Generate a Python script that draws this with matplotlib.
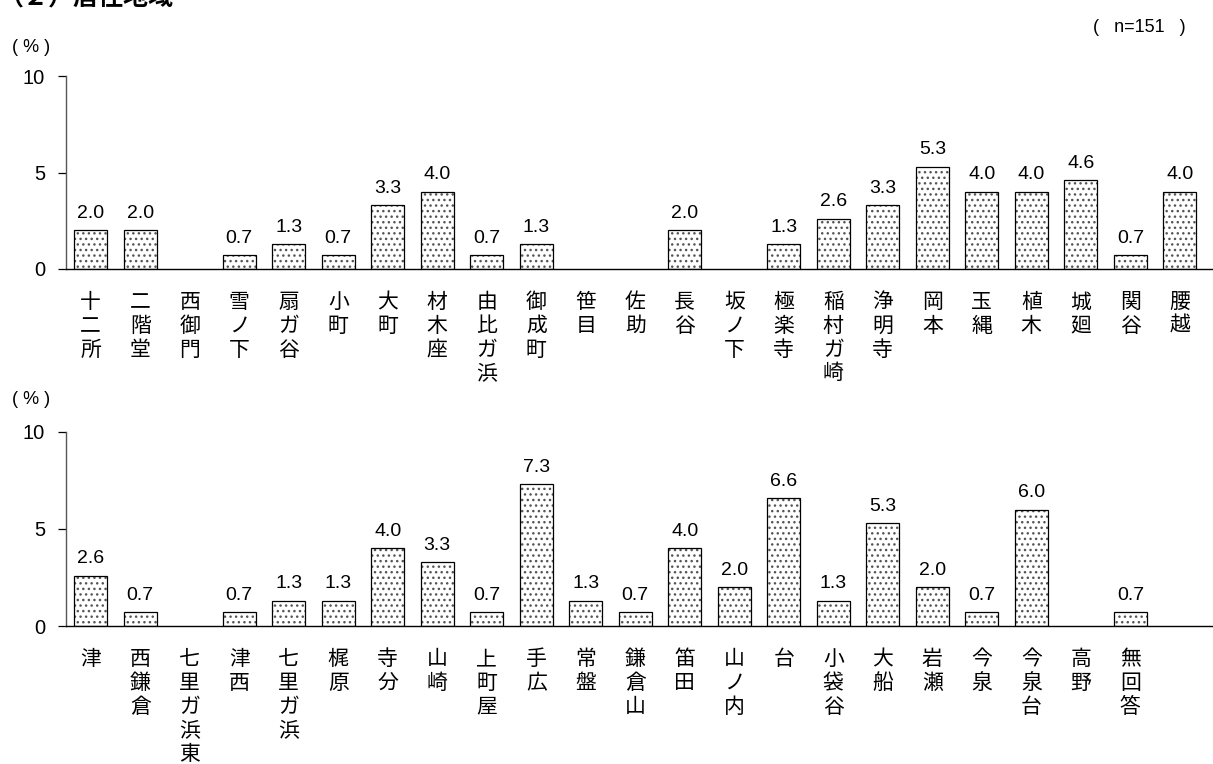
import numpy as np
import matplotlib
matplotlib.use("Agg")
import matplotlib.pyplot as plt

plt.rcParams['font.family'] = ['Liberation Sans', 'Noto Sans CJK JP', 'DejaVu Sans']

# upper panel
areas_top = ["十二所", "二階堂", "西御門", "雪ノ下", "扇ガ谷", "小町", "大町", "材木座",
             "由比ガ浜", "御成町", "笹目", "佐助", "長谷", "坂ノ下", "極楽寺", "稲村ガ崎",
             "浄明寺", "岡本", "玉縄", "植木", "城廻", "関谷", "腰越"]
pct_top = [2.0, 2.0, 0.0, 0.7, 1.3, 0.7, 3.3, 4.0, 0.7, 1.3, 0.0, 0.0, 2.0, 0.0,
           1.3, 2.6, 3.3, 5.3, 4.0, 4.0, 4.6, 0.7, 4.0]

# lower panel
areas_bottom = ["津", "西鎌倉", "七里ガ浜東", "津西", "七里ガ浜", "梶原", "寺分", "山崎",
                "上町屋", "手広", "常盤", "鎌倉山", "笛田", "山ノ内", "台", "小袋谷",
                "大船", "岩瀬", "今泉", "今泉台", "高野", "無回答"]
pct_bottom = [2.6, 0.7, 0.0, 0.7, 1.3, 1.3, 4.0, 3.3, 0.7, 7.3, 1.3, 0.7, 4.0, 2.0,
              6.6, 1.3, 5.3, 2.0, 0.7, 6.0, 0.0, 0.7]

n_total = 151
yticks = [0, 5, 10]

W, H = 1213, 764
fig = plt.figure(figsize=(W / 100, H / 100), dpi=100)


def draw_panel(rect, labels, values):
    ax = fig.add_axes(rect)
    x = np.arange(len(labels))
    vals = np.array(values)
    shown = vals > 0
    # dotted fill, then black outline on top
    ax.bar(x[shown], vals[shown], width=0.67, color="white", edgecolor="#555555",
           hatch="...", linewidth=0)
    ax.bar(x[shown], vals[shown], width=0.67, fill=False, edgecolor="black", linewidth=0.9)
    for xi, v in zip(x[shown], vals[shown]):
        ax.annotate(f"{v:.1f}", (xi, v), xytext=(0, 6), textcoords="offset points",
                    ha="center", va="bottom", fontsize=14)
    ax.set_xlim(-0.5, 22.67)
    ax.set_ylim(0, 10)
    ax.set_yticks(yticks)
    ax.tick_params(axis="y", direction="out", length=6, width=0.9, pad=9, labelsize=14.5)
    ax.set_xticks(x)
    ax.set_xticklabels(["\n".join(s) for s in labels],
                       family=['Noto Sans CJK JP', 'DejaVu Sans'], fontsize=15,
                       linespacing=1.1, va="top")
    ax.tick_params(axis="x", length=0, pad=16)
    for s in ("top", "right"):
        ax.spines[s].set_visible(False)
    ax.spines["left"].set_color("#555555")
    ax.spines["left"].set_linewidth(1.0)
    ax.spines["bottom"].set_color("black")
    ax.spines["bottom"].set_linewidth(1.0)
    return ax


left = 66 / W
draw_panel([left, 1 - 269 / H, 1 - left, (269 - 76) / H], areas_top, pct_top)
draw_panel([left, 1 - 626 / H, 1 - left, (626 - 432) / H], areas_bottom, pct_bottom)

# unit labels
fig.text(12 / W, 1 - 47 / H, "( % )", fontsize=13, va="center", ha="left")
fig.text(12 / W, 1 - 400 / H, "( % )", fontsize=13, va="center", ha="left")
fig.text(1186 / W, 1 - 28 / H, f"(   n={n_total}   )", fontsize=13, va="center", ha="right")

# section title (cut off at the top edge in the source)
fig.text(-2 / W, 1 - 11 / H, "（２）居住地域", family=['Noto Sans CJK JP', 'DejaVu Sans'],
         fontsize=18, fontweight="bold", va="bottom", ha="left")

fig.savefig("out.png", dpi=100)
